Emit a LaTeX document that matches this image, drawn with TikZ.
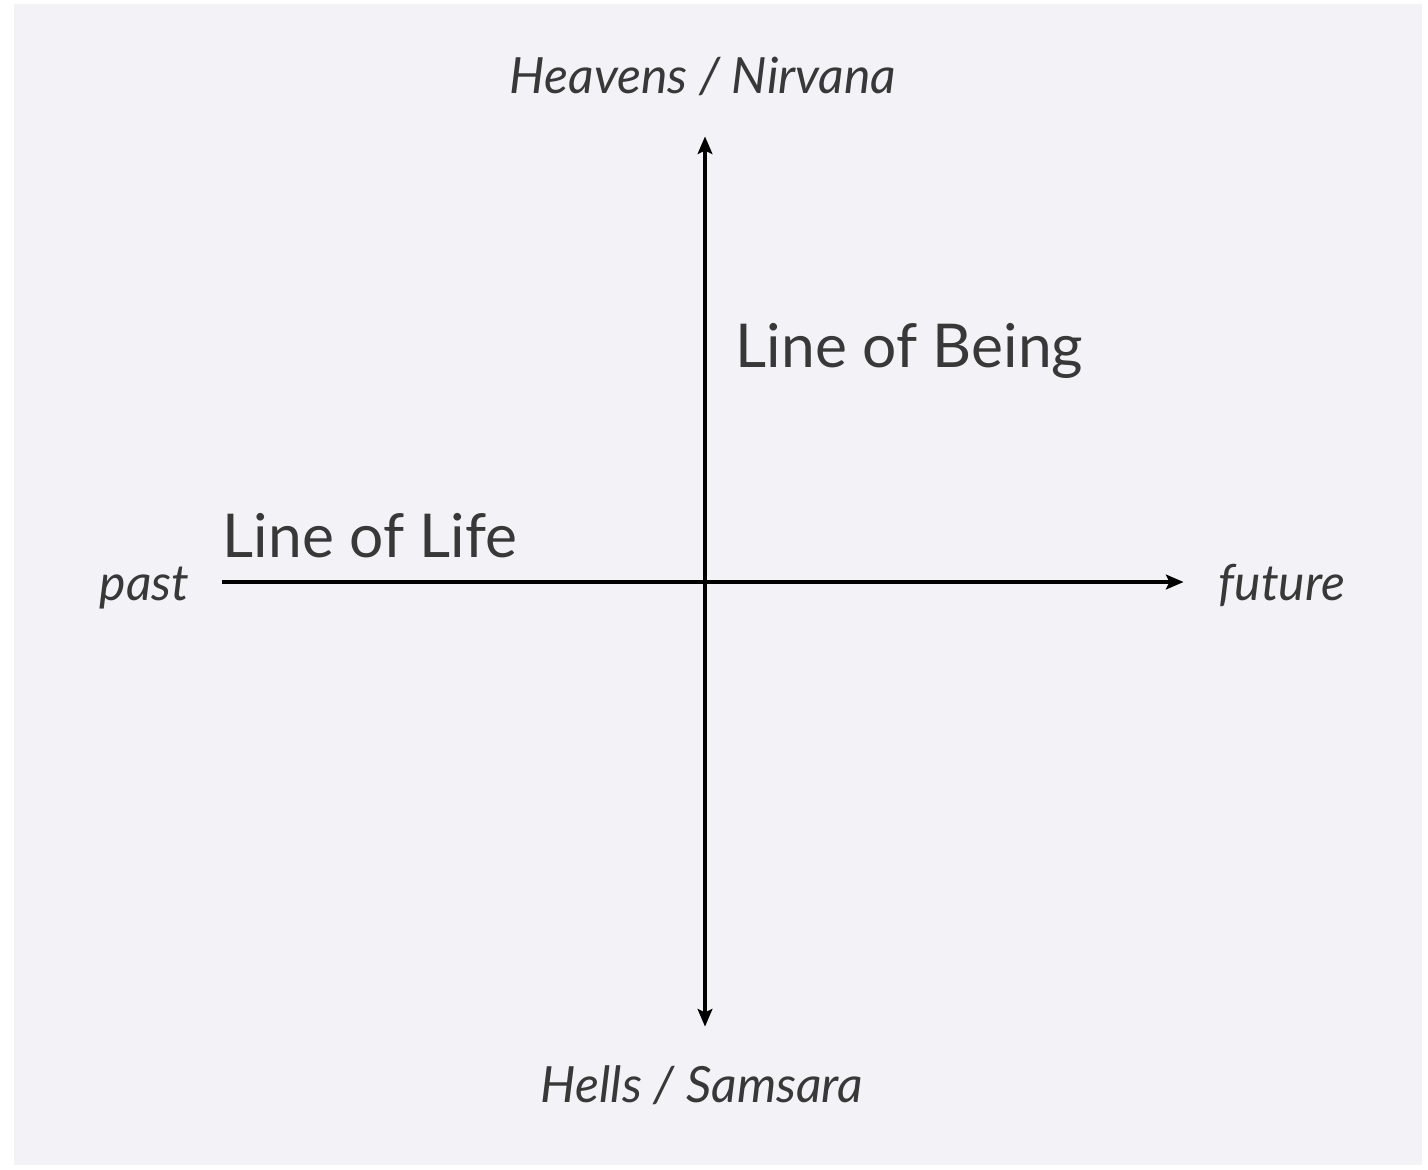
\documentclass[tikz,border=0pt]{standalone}
\usepackage{fontspec}
\setmainfont{Lato}
\usetikzlibrary{arrows.meta}
\definecolor{bgc}{HTML}{F3F3F7}
\definecolor{txt}{HTML}{383838}
\begin{document}
\begin{tikzpicture}[x=0.01cm,y=-0.01cm,
  axis/.style={line width=0.9pt, black},
  tip/.style={-{Stealth[length=5pt,width=4.2pt,inset=1pt]}},
  lab/.style={text=txt, inner sep=0pt, font=\fontsize{14.2}{16}\selectfont\itshape},
  big/.style={text=txt, inner sep=0pt, font=\fontsize{17.2}{20}\selectfont}]
\useasboundingbox (0,0) rectangle (1428,1169);
\fill[white] (0,0) rectangle (1428,1169);
\fill[bgc] (14,4) rectangle (1422,1165);
\coordinate (O) at (705,582);
\coordinate (L) at (222,582);
\node[inner sep=0pt] (R) at (1186,582) {};
\node[inner sep=0pt] (T) at (705,134) {};
\node[inner sep=0pt] (B) at (705,1029) {};
\draw[axis] (L) -- (O);
\draw[axis,tip] (O) -- (R);
\draw[axis,tip] (O) -- (T);
\draw[axis,tip] (O) -- (B);
\node[lab, anchor=base] (heaven) at (703,93) {Heavens / Nirvana};
\node[lab, anchor=base] (hell) at (702,1102) {Hells / Samsara};
\node[lab, anchor=base east] (past) at (190,600) {past};
\node[lab, anchor=base west] (future) at (1218,600) {future};
\node[big, anchor=base west] (being) at (735,367) {Line of Being};
\node[big, anchor=base west] (life) at (222,557) {Line of Life};
\end{tikzpicture}
\end{document}
